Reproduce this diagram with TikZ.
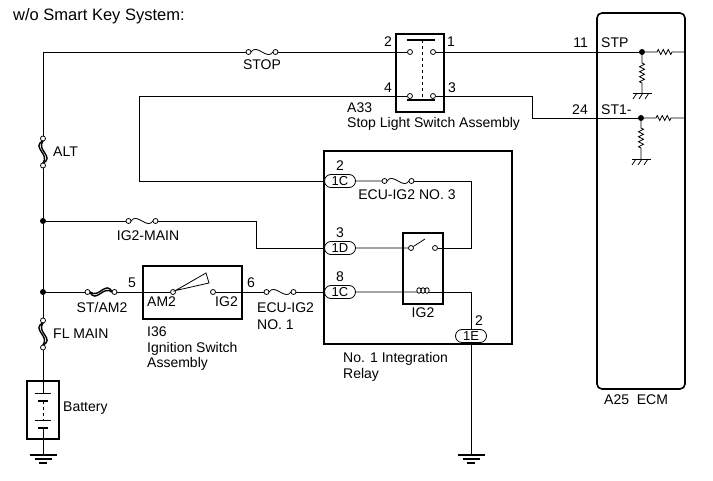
\documentclass[tikz,border=0pt]{standalone}
\usepackage{fontspec}
\setmainfont{Liberation Sans}
\usetikzlibrary{shapes.misc,decorations.pathmorphing}

\tikzset{
  wire/.style={line width=0.8pt},
  box/.style={draw, line width=1.6pt, inner sep=0pt},
  contact/.style={circle, draw, fill=white, line width=0.8pt, inner sep=0pt, minimum size=5pt},
  dot/.style={circle, fill, inner sep=0pt, minimum size=6pt},
  plug/.style={rounded rectangle, draw, fill=white, line width=0.8pt, inner sep=0pt, minimum width=31pt, minimum height=13pt, font=\fontsize{13}{13}\selectfont},
  res/.style={decoration={zigzag, segment length=5pt, amplitude=2.5pt}},
  fuse/.pic={
    \draw[wire] (-11,0) .. controls (-5,-9) and (5,9) .. (11,0);
    \draw[wire, fill=white] (-13.5,0) circle (2.5);
    \draw[wire, fill=white] (13.5,0) circle (2.5);
    \coordinate (-a) at (-16,0);
    \coordinate (-b) at (16,0);
  },
  link/.pic={
    \draw[line width=1.4pt] (0,-11) .. controls (-12,-5) and (7,2) .. (0,11);
    \draw[line width=1.4pt] (0,-11) .. controls (-7,-2) and (12,5) .. (0,11);
    \draw[wire, fill=white] (0,-13.5) circle (2.5);
    \draw[wire, fill=white] (0,13.5) circle (2.5);
    \coordinate (-a) at (0,-16);
    \coordinate (-b) at (0,16);
  },
  earth/.pic={
    \draw[line width=1.5pt] (-13.5,0) -- (13.5,0);
    \draw[line width=1.2pt] (-8.5,4) -- (8.5,4);
    \draw[line width=1.2pt] (-4,8) -- (4,8);
    \coordinate (-top) at (0,0);
  },
  chassis/.pic={
    \draw[wire] (-9.5,0) -- (9.5,0);
    \foreach \x in {-5,1,7} \draw[wire] (\x,0) -- (\x-4,6);
    \coordinate (-top) at (0,0);
  },
  coil/.pic={
    \foreach \x in {-4,0,4} \draw[wire] (\x,-1.5) ellipse (2.2 and 2.8);
    \coordinate (-a) at (-6,0);
    \coordinate (-b) at (6,0);
  }
}

\begin{document}
\begin{tikzpicture}[x=1pt, y=-1pt, node distance=15pt, inner sep=1pt, font=\fontsize{14}{16}\selectfont]
\useasboundingbox (0,0) rectangle (713,481);

\node[box, minimum width=48pt, minimum height=78pt] (a33) at (420,73) {};
\node[box, minimum width=99pt, minimum height=53pt] (ign) at (192.5,292.5) {};
\node[box, minimum width=188pt, minimum height=193pt] (relay) at (418,247.5) {};
\node[box, minimum width=40pt, minimum height=71pt] (ig2) at (423,268.5) {};
\node[box, minimum width=32pt, minimum height=58pt] (batt) at (43,410) {};
\node[box, rounded corners=5pt, minimum width=88pt, minimum height=376pt] (ecm) at (641,201) {};

\coordinate (tl) at (43,52);
\node[dot] (j1) at (43,221) {};
\node[dot] (j2) at (43,292) {};
\node[contact] (s2) at (410,52) {};
\node[contact] (s1) at (433,52) {};
\node[contact] (s4) at (410,96) {};
\node[contact] (s3) at (433,96) {};
\node[contact] (am2) at (173,292) {};
\node[contact] (ig2c) at (213,292) {};
\node[contact] (rc1) at (411,248) {};
\node[contact] (rc2) at (435,248) {};
\node[dot] (dA) at (642,52) {};
\node[dot] (dB) at (641,118) {};

\node[plug] (c1Ca) at (340,181) {1C};
\node[plug] (c1D) at (340,248) {1D};
\node[plug] (c1Cb) at (340,292) {1C};
\node[plug] (c1E) at (471,336) {1E};

\pic (stop) at (262,52) {fuse};
\pic (ig2m) at (142,221) {fuse};
\pic (ecu3) at (398,181) {fuse};
\pic (ecu1) at (280,292) {fuse};
\pic (alt) at (43,152) {link};
\pic (flm) at (43,334) {link};
\pic[rotate=90] (stam) at (101,292) {link};
\pic (ig2coil) at (423,292) {coil};
\pic (gL) at (43,455) {earth};
\pic (gR) at (471,455) {earth};
\pic (gA) at (642,93) {chassis};
\pic (gB) at (641,159) {chassis};

\draw[wire] (tl) -- (stop-a);
\draw[wire] (stop-b) -- (s2);
\draw[wire] (tl) -- (alt-a);
\draw[wire] (alt-b) -- (j1);
\draw[wire] (j1) -- (j2);
\draw[wire] (j2) -- (flm-a);
\draw[wire] (flm-b) -- (batt.north);
\draw[wire] (batt.south) -- (gL-top);
\draw[wire] (j1) -- (ig2m-a);
\draw[wire] (ig2m-b) -- (256,221) |- (c1D);
\draw[wire] (j2) -- (stam-a);
\draw[wire] (stam-b) -- (am2);
\draw[wire] (ig2c) -- (ecu1-a);
\draw[wire] (ecu1-b) -- (c1Cb);
\draw[wire] (s4) -- (139,96) |- (c1Ca);
\draw[wire] (s1) -- (dA);
\draw[wire] (s3) -- (532,96) |- (dB);
\draw[wire] (dA) -- ++(15,0) decorate[res] {-- ++(15,0)} -- (dA -| ecm.east);
\draw[wire] (dB) -- ++(15,0) decorate[res] {-- ++(15,0)} -- (dB -| ecm.east);
\draw[wire] (dA) -- ++(0,11) decorate[res] {-- ++(0,20)} -- (gA-top);
\draw[wire] (dB) -- ++(0,10) decorate[res] {-- ++(0,20)} -- (gB-top);

\draw[wire] (c1Ca) -- (ecu3-a);
\draw[wire] (ecu3-b) -- (471,181) |- (rc2);
\draw[wire] (c1D) -- (rc1);
\draw[wire] (rc1) -- (425,239);
\draw[wire] (c1Cb) -- (ig2coil-a);
\draw[wire] (ig2coil-b) -- (471,292) -- (c1E);
\draw[wire] (c1E) -- (gR-top);

\draw[line width=1.6pt] (407,40) -- (435,40);
\draw[line width=1.6pt] (407,100) -- (435,100);
\draw[wire, dashed] (422,40) -- (422,100);
\draw[wire] (am2) -- (206,273) -- (209,283) -- cycle;

\draw[wire] (batt.north) -- (43,393);
\draw[wire] (35,393) -- (51,393);
\draw[line width=1.6pt] (38,401) -- (48,401);
\draw[wire, dashed] (43,401) -- (43,420);
\draw[wire] (35,420) -- (51,420);
\draw[line width=1.6pt] (38,428) -- (48,428);
\draw[wire] (43,428) -- (batt.south);

\node[anchor=base west, font=\fontsize{16.5}{18}\selectfont] (title) at (12,21) {w/o Smart Key System:};
\node[anchor=base] (stopL) at (262,70) {STOP};
\node[anchor=base west] (altL) at (52,157) {ALT};
\node[anchor=base] (ig2mL) at (148,241) {IG2-MAIN};
\node[anchor=base] (stamL) at (102,313) {ST/AM2};
\node[anchor=base west] (flmL) at (52,339) {FL MAIN};
\node[anchor=base west] (battL) at (62,411) {Battery};
\node[anchor=base west] (am2L) at (146,307) {AM2};
\node[anchor=base east] (ig2L) at (239,307) {IG2};
\node[anchor=base] (p5) at (132,288) {5};
\node[anchor=base] (p6) at (251,288) {6};
\node[anchor=north west, align=left, font=\fontsize{14}{17}\selectfont] (ecu1L) at (256,302) {ECU-IG2\\NO. 1};
\node[anchor=north west, align=left, font=\fontsize{14}{15.5}\selectfont] (ignL) at (146,326) {I36\\Ignition Switch\\Assembly};
\node[anchor=north west, align=left, font=\fontsize{14}{15}\selectfont] (a33L) at (346,102) {A33\\Stop Light Switch Assembly};
\node[anchor=base] (p2) at (388,47) {2};
\node[anchor=base] (p1) at (451,47) {1};
\node[anchor=base] (p4) at (388,93) {4};
\node[anchor=base] (p3) at (452,93) {3};
\node[anchor=base] (ecu3L) at (407,200) {ECU-IG2 NO. 3};
\node[above of=c1Ca] (n2) {2};
\node[above of=c1D] (n3) {3};
\node[above of=c1Cb] (n8) {8};
\node[above of=c1E, xshift=8pt] (n2e) {2};
\node[anchor=base] (ig2rL) at (423,318) {IG2};
\node[anchor=north west, align=left] (relayL) at (342,351) {No. 1 Integration\\Relay};
\node[anchor=base east] (p11) at (589,48) {11};
\node[anchor=base west] (stpL) at (600,48) {STP};
\node[anchor=base east] (p24) at (589,115) {24};
\node[anchor=base west] (st1L) at (600,115) {ST1-};
\node[anchor=base west] (ecmL) at (603,405) {A25~~ECM};
\end{tikzpicture}
\end{document}
